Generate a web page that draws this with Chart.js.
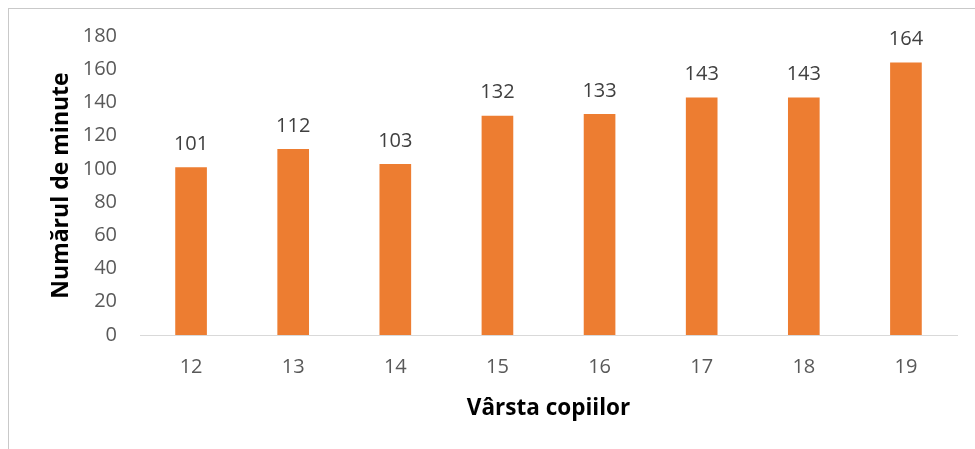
<!DOCTYPE html>
<html lang="ro">
<head>
  <meta charset="UTF-8" />
  <title>Numărul de minute după vârsta copiilor</title>
  <script src="https://cdn.jsdelivr.net/npm/chart.js@4/dist/chart.umd.min.js"></script>
  <style>
    * { box-sizing: border-box; margin: 0; padding: 0; }
    body { width: 975px; height: 449px; background: #fff; overflow: hidden; position: relative; }
    .frame {
      position: absolute; left: 8px; top: 8px; width: 980px; height: 460px;
      border-left: 1px solid #c9c9c9; border-top: 1px solid #c9c9c9;
    }
    .chart-wrap { position: absolute; left: 0; top: 0; width: 975px; height: 449px; }
  </style>
</head>
<body>
  <div class="frame"></div>
  <div class="chart-wrap"><canvas id="chart"></canvas></div>

  <script>
    const ages = ['12', '13', '14', '15', '16', '17', '18', '19'];
    const minutes = [101, 112, 103, 132, 133, 143, 143, 164];
    const yTicks = [0, 20, 40, 60, 80, 100, 120, 140, 160, 180];

    const FONT = '"Open Sans", Lato, sans-serif';
    const GREY = '#595959';

    // value labels above each bar
    const valueLabels = {
      id: 'valueLabels',
      afterDatasetsDraw(chart) {
        const { ctx } = chart;
        const meta = chart.getDatasetMeta(0);
        ctx.save();
        ctx.font = '20px ' + FONT;
        ctx.fillStyle = '#404040';
        ctx.textAlign = 'center';
        ctx.textBaseline = 'middle';
        meta.data.forEach((bar, i) => {
          ctx.fillText(String(minutes[i]), bar.x, bar.y - 23);
        });
        ctx.restore();
      },
    };

    const ctx = document.getElementById('chart').getContext('2d');
    new Chart(ctx, {
      type: 'bar',
      data: {
        labels: ages,
        datasets: [{
          data: minutes,
          backgroundColor: '#ED7D31',
          borderWidth: 0,
          barPercentage: 0.31,
          categoryPercentage: 1,
        }],
      },
      options: {
        responsive: true,
        maintainAspectRatio: false,
        animation: false,
        layout: { padding: { top: 36, right: 18, bottom: 0, left: 0 } },
        plugins: {
          legend: { display: false },
          tooltip: { enabled: false },
        },
        scales: {
          x: {
            grid: { display: false, drawTicks: false },
            border: { display: true, color: '#d9d9d9', width: 1 },
            ticks: { color: GREY, font: { family: FONT, size: 20 }, padding: 20 },
            title: {
              display: true,
              text: 'Vârsta copiilor',
              color: '#000',
              font: { family: FONT, size: 22.5, weight: 'bold' },
              padding: { top: 0, bottom: 27 },
            },
            afterFit(scale) { scale.height = 114; },
          },
          y: {
            min: 0,
            max: 180,
            afterBuildTicks(scale) { scale.ticks = yTicks.map((v) => ({ value: v })); },
            grid: { display: false, drawTicks: false },
            border: { display: false },
            ticks: { color: GREY, font: { family: FONT, size: 20 }, padding: 23 },
            title: {
              display: true,
              text: 'Numărul de minute',
              color: '#000',
              font: { family: FONT, size: 23, weight: 'bold' },
              padding: { top: 48, bottom: 0 },
            },
            afterFit(scale) { scale.width = 140; },
          },
        },
      },
      plugins: [valueLabels],
    });
  </script>
</body>
</html>
